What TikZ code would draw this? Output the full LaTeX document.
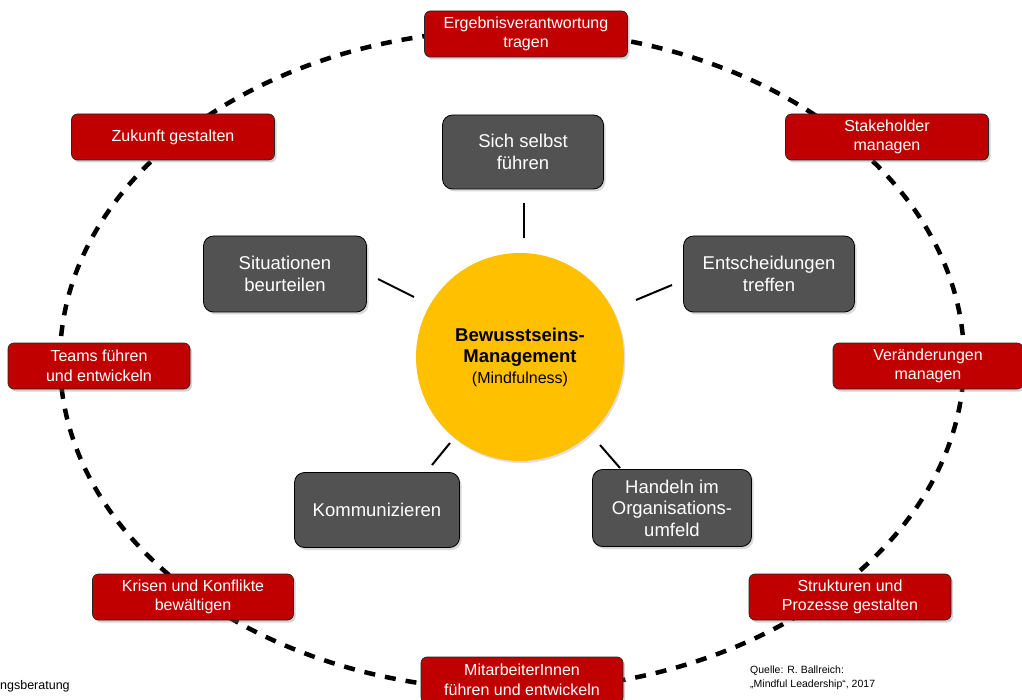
\documentclass[tikz,border=0pt]{standalone}
\usepackage{fontspec}
\setmainfont{Liberation Sans}
\usetikzlibrary{shadows}
\definecolor{ringred}{HTML}{C00000}
\definecolor{coregray}{HTML}{525252}
\definecolor{coreyellow}{HTML}{FFC000}
\newcommand{\corebig}{\fontsize{18.5}{21}\selectfont\bfseries}
\newcommand{\coresmall}{\fontsize{16}{21}\selectfont\mdseries}
\begin{document}
\begin{tikzpicture}[x=1pt,y=-1pt,
  ringbox/.style={draw=black!85, line width=0.7pt, fill=ringred, rounded corners=6pt,
    text=white, align=center, minimum height=46pt, inner sep=2pt,
    font=\fontsize{16}{19.5}\selectfont,
    drop shadow={opacity=0.35, shadow xshift=2pt, shadow yshift=-2.5pt}},
  corebox/.style={draw=black, line width=0.8pt, fill=coregray, rounded corners=10pt,
    text=white, align=center, inner sep=2pt,
    font=\fontsize{18.5}{21.5}\selectfont,
    drop shadow={opacity=0.3, shadow xshift=2pt, shadow yshift=-2.5pt}},
  spoke/.style={line width=2pt, black},
  ring/.style={line width=4.5pt, dash pattern=on 11pt off 10pt}
]
\useasboundingbox (0,0) rectangle (1022,700);

% dashed outer ring
\draw[ring] (512,360) ellipse [x radius=452, y radius=330];

% centre
\node[circle, fill=coreyellow, minimum size=208pt, inner sep=0pt, align=center,
  font=\fontsize{18.5}{21}\selectfont,
  drop shadow={opacity=0.25, shadow xshift=1.5pt, shadow yshift=-2pt}] (core) at (520,357)
  {\corebig Bewusstseins-\\\corebig Management\\\coresmall (Mindfulness)};

% inner competences
\node[corebox, minimum width=161pt, minimum height=74pt] (self) at (523,152) {Sich selbst\\führen};
\node[corebox, minimum width=163pt, minimum height=76pt] (situ) at (285,274) {Situationen\\beurteilen};
\node[corebox, minimum width=171pt, minimum height=76pt] (ents) at (769,274) {Entscheidungen\\treffen};
\node[corebox, minimum width=165pt, minimum height=75pt] (komm) at (377,510) {Kommunizieren};
\node[corebox, minimum width=159pt, minimum height=77pt] (hand) at (672,508) {Handeln im\\Organisations-\\umfeld};

% spokes
\coordinate (s1a) at (524,203); \coordinate (s1b) at (524,238);
\coordinate (s2a) at (378,279); \coordinate (s2b) at (414,297);
\coordinate (s3a) at (672,285); \coordinate (s3b) at (636,300);
\coordinate (s4a) at (432,465); \coordinate (s4b) at (450,443);
\coordinate (s5a) at (620,468); \coordinate (s5b) at (600,445);
\draw[spoke] (s1a) -- (s1b);
\draw[spoke] (s2a) -- (s2b);
\draw[spoke] (s3a) -- (s3b);
\draw[spoke] (s4a) -- (s4b);
\draw[spoke] (s5a) -- (s5b);

% outer tasks
\node[ringbox, minimum width=203pt] (erg) at (526,34) {Ergebnisverantwortung\\tragen};
\node[ringbox, minimum width=203pt] (zuk) at (173,137) {Zukunft gestalten};
\node[ringbox, minimum width=203pt] (stk) at (887,137) {Stakeholder\\managen};
\node[ringbox, minimum width=182pt] (team) at (99,366) {Teams führen\\und entwickeln};
\node[ringbox, minimum width=190pt] (ver) at (928,366) {Veränderungen\\managen};
\node[ringbox, minimum width=201pt] (kri) at (193,597) {Krisen und Konflikte\\bewältigen};
\node[ringbox, minimum width=202pt] (str) at (850,597) {Strukturen und\\Prozesse gestalten};
\node[ringbox, minimum width=202pt] (mit) at (522,680) {MitarbeiterInnen\\führen und entwickeln};

% footers
\node[anchor=west, inner sep=0pt, font=\fontsize{12.5}{15}\selectfont] (foot) at (0,686) {ngsberatung};
\node[anchor=north west, inner sep=0pt, align=left, font=\fontsize{10.5}{14}\selectfont] (src) at (750,666)
  {Quelle: R. Ballreich:\\„Mindful Leadership“, 2017};
\end{tikzpicture}
\end{document}
